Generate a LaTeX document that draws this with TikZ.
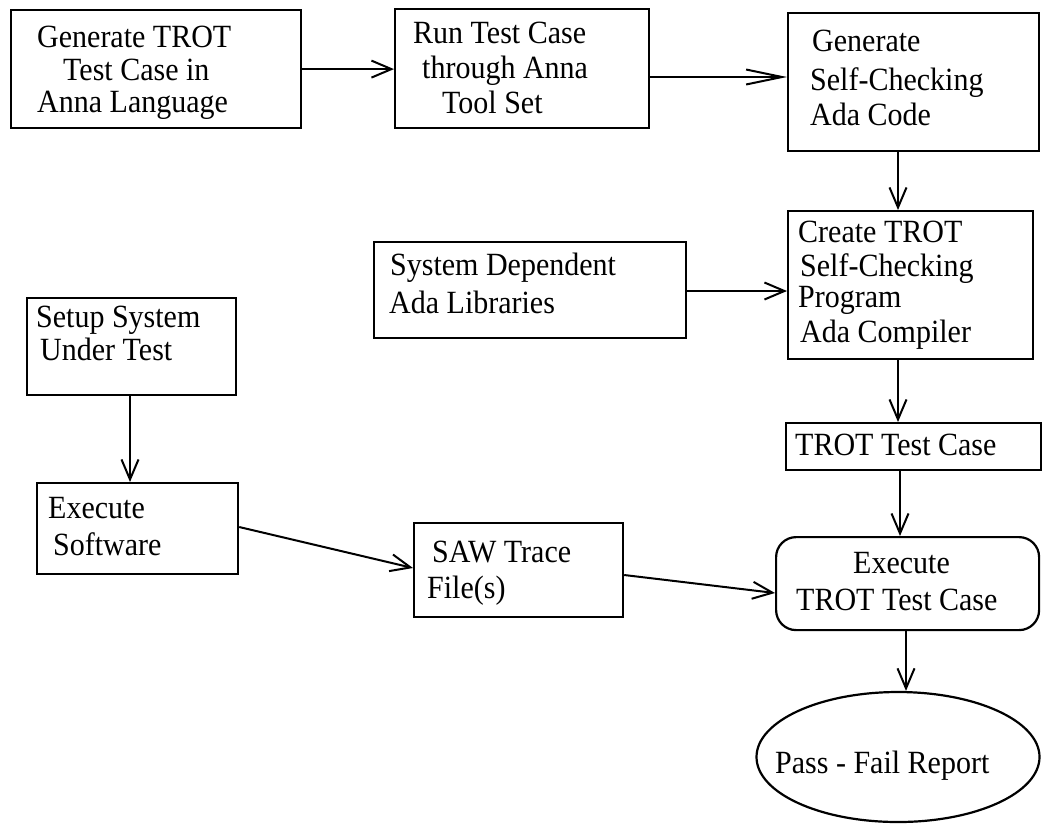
\documentclass[tikz,border=0pt]{standalone}
\usepackage{fontspec}
\setmainfont{Liberation Serif}
\usetikzlibrary{arrows.meta,shapes.geometric}
\newcommand\tx[1]{\scalebox{1}[1.08]{#1}}
\tikzset{
  box/.style={draw, line width=2.2pt, inner sep=0pt, anchor=north west},
  rbox/.style={box, rounded corners=20pt},
  oval/.style={draw, line width=2.2pt, ellipse, inner sep=0pt},
  txt/.style={anchor=base west, inner sep=0pt, font=\fontsize{30}{33}\selectfont},
  arr/.style={line width=2pt, -{Straight Barb[length=20pt,width=17pt,line width=2pt]}},
  longarr/.style={line width=2pt, -{Straight Barb[length=36pt,width=15pt,line width=2pt]}}
}
\begin{document}
\begin{tikzpicture}[x=1pt,y=-1pt]
\useasboundingbox (0,0) rectangle (1048,823);
% boxes
\node[box, minimum width=290pt, minimum height=118pt] (b1) at (10,9) {};
\node[box, minimum width=254pt, minimum height=119pt] (b2) at (394,8) {};
\node[box, minimum width=251pt, minimum height=138pt] (b3) at (787,12) {};
\node[box, minimum width=245pt, minimum height=148pt] (b4) at (787,210) {};
\node[box, minimum width=255pt, minimum height=47pt] (b5) at (785,422) {};
\node[rbox, minimum width=263pt, minimum height=93pt] (b6) at (775,536) {};
\node[oval, minimum width=283pt, minimum height=130pt] (b7) at (898,757) {};
\node[box, minimum width=312pt, minimum height=96pt] (sd) at (373,241) {};
\node[box, minimum width=209pt, minimum height=97pt] (su) at (26,297) {};
\node[box, minimum width=201pt, minimum height=91pt] (ex) at (36,482) {};
\node[box, minimum width=209pt, minimum height=94pt] (saw) at (413,522) {};
% texts
\node[txt] (t1a) at (37,47) {\tx{Generate TROT}};
\node[txt] (t1b) at (63,80) {\tx{Test Case in}};
\node[txt] (t1c) at (37,112) {\tx{Anna Language}};
\node[txt] (t2a) at (413,43) {\tx{Run Test Case}};
\node[txt] (t2b) at (422,78) {\tx{through Anna}};
\node[txt] (t2c) at (442,113) {\tx{Tool Set}};
\node[txt] (t3a) at (812,51) {\tx{Generate}};
\node[txt] (t3b) at (810,90) {\tx{Self-Checking}};
\node[txt] (t3c) at (810,125) {\tx{Ada Code}};
\node[txt] (t4a) at (798,242) {\tx{Create TROT}};
\node[txt] (t4b) at (800,276) {\tx{Self-Checking}};
\node[txt] (t4c) at (798,307) {\tx{Program}};
\node[txt] (t4d) at (800,342) {\tx{Ada Compiler}};
\node[txt] (t5) at (795,455) {\tx{TROT Test Case}};
\node[txt] (t6a) at (853,573) {\tx{Execute}};
\node[txt] (t6b) at (796,610) {\tx{TROT Test Case}};
\node[txt] (t7) at (775,773) {\tx{Pass - Fail Report}};
\node[txt] (tsa) at (390,275) {\tx{System Dependent}};
\node[txt] (tsb) at (389,313) {\tx{Ada Libraries}};
\node[txt] (tua) at (36,327) {\tx{Setup System}};
\node[txt] (tub) at (40,360) {\tx{Under Test}};
\node[txt] (tea) at (48,518) {\tx{Execute}};
\node[txt] (teb) at (53,555) {\tx{Software}};
\node[txt] (twa) at (432,562) {\tx{SAW Trace}};
\node[txt] (twb) at (427,598) {\tx{File(s)}};
% connectors
\draw[arr] (b1.east) -- (b2.west |- b1.east);
\draw[longarr] (b2.east |- 0,77) -- (b3.west |- 0,77);
\draw[arr] (b3.south -| 898,0) -- (b4.north -| 898,0);
\draw[arr] (sd.east |- 0,291) -- (b4.west |- 0,291);
\draw[arr] (b4.south -| 898,0) -- (b5.north -| 898,0);
\draw[arr] (b5.south -| 900,0) -- (b6.north -| 900,0);
\draw[arr] (b6.south -| 906,0) -- (b7.north -| 906,0);
\draw[arr] (su.south -| 130,0) -- (ex.north -| 130,0);
\draw[arr] (ex.east |- 0,527) -- (saw.west |- 0,568);
\draw[arr] (saw.east |- 0,575) -- (b6.west |- 0,593);
\end{tikzpicture}
\end{document}
